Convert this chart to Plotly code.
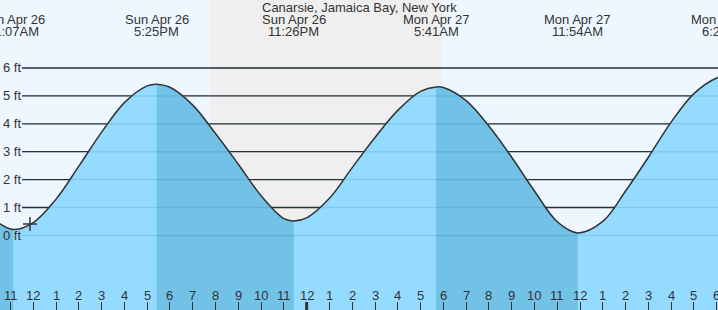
import plotly.graph_objects as go

# ---- data (hours since midnight, Sun Apr 26; heights in ft) ----
hours = [10.5, 11.117, 12, 13, 14, 15, 16, 17, 17.417, 18, 19, 20, 21, 22, 23,
         23.433, 24, 25, 26, 27, 28, 29, 29.683, 30, 31, 32, 33, 34, 35, 35.9,
         37, 38, 39, 40, 41, 42, 42.35]
height = [0.43, 0.21, 0.46, 1.30, 2.48, 3.70, 4.76, 5.36, 5.42, 5.31, 4.67, 3.65,
          2.55, 1.42, 0.60, 0.52, 0.63, 1.33, 2.43, 3.51, 4.48, 5.16, 5.32, 5.30,
          4.83, 3.92, 2.80, 1.59, 0.49, 0.09, 0.50, 1.59, 2.80, 4.06, 5.08, 5.64, 5.70]

ext_time = [11.117, 17.417, 23.433, 29.683, 35.9, 42.35]
ext_day = ["Sun Apr 26", "Sun Apr 26", "Sun Apr 26", "Mon Apr 27", "Mon Apr 27", "Mon Apr 27"]
ext_clock = ["11:07AM", "5:25PM", "11:26PM", "5:41AM", "11:54AM", "6:21PM"]
ext_type = ["L", "H", "L", "H", "L", "H"]

sunset = 19.767
sunrise = 29.967
now_time, now_height = 11.855, 0.41

hour_ticks = list(range(11, 43))
hour_labels = [str((h - 1) % 12 + 1) for h in hour_ticks]
ft_levels = [0, 1, 2, 3, 4, 5, 6]
title = "Canarsie, Jamaica Bay, New York"

# ---- style ----
W, H = 718, 310
X_RANGE = [10.538, 42.057]
Y_RANGE = [-2.674, 8.437]
DAY = "#eef7ff"
NIGHT = "#efefef"
LIGHT = "#94dbff"
DARK = "#72c1e6"
TXT = "#333333"
FONT = "Liberation Sans, Arial, sans-serif"


def px_x(t):
    return (t - X_RANGE[0]) / (X_RANGE[1] - X_RANGE[0])


fig = go.Figure()
FLOOR = Y_RANGE[0]

# full light fill
fig.add_trace(go.Scatter(x=[hours[0], hours[-1]], y=[FLOOR, FLOOR], mode="lines",
                         line=dict(width=0), hoverinfo="skip", showlegend=False))
fig.add_trace(go.Scatter(x=hours, y=height, mode="lines",
                         line=dict(width=0, shape="spline"), fill="tonexty",
                         fillcolor=LIGHT, hoverinfo="skip", showlegend=False))

# falling-tide (dark) segments: from each high to the next low
falling = [(hours[0], ext_time[0])]
for i, tp in enumerate(ext_type):
    if tp == "H" and i + 1 < len(ext_time):
        falling.append((ext_time[i], ext_time[i + 1]))
for a, b in falling:
    xs = [t for t in hours if a - 1e-6 <= t <= b + 1e-6]
    ys = [height[hours.index(t)] for t in xs]
    fig.add_trace(go.Scatter(x=[xs[0], xs[-1]], y=[FLOOR, FLOOR], mode="lines",
                             line=dict(width=0), hoverinfo="skip", showlegend=False))
    fig.add_trace(go.Scatter(x=xs, y=ys, mode="lines",
                             line=dict(width=0, shape="spline"), fill="tonexty",
                             fillcolor=DARK, hoverinfo="skip", showlegend=False))

# curve outline
fig.add_trace(go.Scatter(x=hours, y=height, mode="lines",
                         line=dict(color=TXT, width=1.5, shape="spline"),
                         hoverinfo="skip", showlegend=False))
# current-time marker
fig.add_trace(go.Scatter(x=[now_time], y=[now_height], mode="markers",
                         marker=dict(symbol="cross-thin", size=10,
                                     line=dict(color=TXT, width=1.5)),
                         hoverinfo="skip", showlegend=False))

shapes = []
# night shading
shapes.append(dict(type="rect", xref="x", yref="paper", x0=sunset, x1=sunrise,
                   y0=0, y1=1, fillcolor=NIGHT, line=dict(width=0), layer="below"))
# grid lines
for v in ft_levels:
    shapes.append(dict(type="line", xref="paper", yref="y", x0=22 / W, x1=1,
                       y0=v, y1=v, line=dict(color="#2e2e2e", width=1.3), layer="below"))
    shapes.append(dict(type="line", xref="paper", yref="y", x0=22 / W, x1=1,
                       y0=v, y1=v, line=dict(color="rgba(0,90,150,0.13)", width=1.5),
                       layer="above"))
# midnight tick
shapes.append(dict(type="line", xref="x", yref="paper", x0=24, x1=24, y0=0, y1=8 / H,
                   line=dict(color=TXT, width=3), layer="above"))

ann = []
ann.append(dict(text=title, xref="paper", yref="paper", x=0.5, y=1 - 7.5 / H,
                xanchor="center", yanchor="middle", showarrow=False,
                font=dict(size=13, color=TXT, family=FONT)))
for t, d, c in zip(ext_time, ext_day, ext_clock):
    ann.append(dict(text=d, xref="paper", yref="paper", x=px_x(t), y=1 - 20 / H,
                    xanchor="center", yanchor="middle", showarrow=False,
                    font=dict(size=13, color=TXT, family=FONT)))
    ann.append(dict(text=c, xref="paper", yref="paper", x=px_x(t), y=1 - 31.5 / H,
                    xanchor="center", yanchor="middle", showarrow=False,
                    font=dict(size=13, color=TXT, family=FONT)))
for v in ft_levels:
    ann.append(dict(text=f"{v} ft", xref="paper", yref="y", x=0, y=v, xshift=1,
                    xanchor="left", yanchor="middle", showarrow=False,
                    font=dict(size=13, color=TXT, family=FONT)))
for t, lab in zip(hour_ticks, hour_labels):
    ann.append(dict(text=lab, xref="x", yref="paper", x=t, y=14.5 / H,
                    xanchor="center", yanchor="middle", showarrow=False,
                    font=dict(size=13, color=TXT, family=FONT)))

fig.update_layout(
    width=W, height=H, margin=dict(l=0, r=0, t=0, b=0),
    paper_bgcolor=DAY, plot_bgcolor=DAY,
    shapes=shapes, annotations=ann, showlegend=False,
    xaxis=dict(range=X_RANGE, showgrid=False, zeroline=False, showline=False,
               ticks="inside", tickvals=hour_ticks, ticklen=8, tickwidth=1,
               tickcolor=TXT, showticklabels=False, fixedrange=True),
    yaxis=dict(range=Y_RANGE, visible=False, fixedrange=True),
)
fig.write_html("out.html", config={"displayModeBar": False})
